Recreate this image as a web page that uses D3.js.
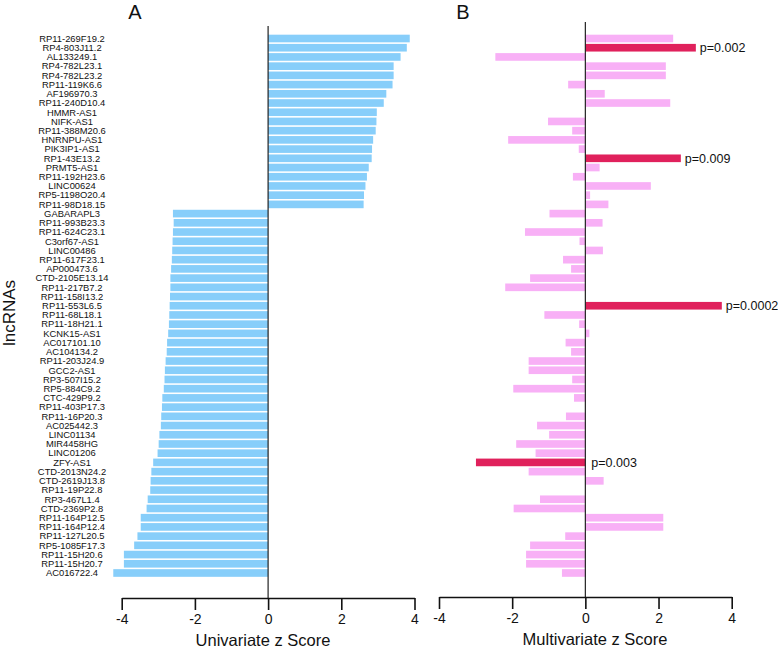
<!DOCTYPE html>
<html>
<head>
<meta charset="utf-8">
<script src="https://cdn.jsdelivr.net/npm/d3@7"></script>
<style>
  html, body { margin: 0; padding: 0; background: #fff; }
  svg { display: block; font-family: "Liberation Sans", Arial, sans-serif; }
</style>
</head>
<body>
<svg id="chart" width="778" height="650"></svg>
<script>
const lncRNAs = [
  "RP11-269F19.2","RP4-803J11.2","AL133249.1","RP4-782L23.1","RP4-782L23.2",
  "RP11-119K6.6","AF196970.3","RP11-240D10.4","HMMR-AS1","NIFK-AS1",
  "RP11-388M20.6","HNRNPU-AS1","PIK3IP1-AS1","RP1-43E13.2","PRMT5-AS1",
  "RP11-192H23.6","LINC00624","RP5-1198O20.4","RP11-98D18.15","GABARAPL3",
  "RP11-993B23.3","RP11-624C23.1","C3orf67-AS1","LINC00486","RP11-617F23.1",
  "AP000473.6","CTD-2105E13.14","RP11-217B7.2","RP11-158I13.2","RP11-553L6.5",
  "RP11-68L18.1","RP11-18H21.1","KCNK15-AS1","AC017101.10","AC104134.2",
  "RP11-203J24.9","GCC2-AS1","RP3-507I15.2","RP5-884C9.2","CTC-429P9.2",
  "RP11-403P17.3","RP11-16P20.3","AC025442.3","LINC01134","MIR4458HG",
  "LINC01206","ZFY-AS1","CTD-2013N24.2","CTD-2619J13.8","RP11-19P22.8",
  "RP3-467L1.4","CTD-2369P2.8","RP11-164P12.5","RP11-164P12.4","RP11-127L20.5",
  "RP5-1085F17.3","RP11-15H20.6","RP11-15H20.7","AC016722.4"
];

const univariateZ = [
  3.87, 3.79, 3.62, 3.43, 3.43, 3.40, 3.23, 3.16, 2.97, 2.96,
  2.94, 2.87, 2.84, 2.83, 2.75, 2.70, 2.66, 2.62, 2.61, -2.60,
  -2.58, -2.60, -2.61, -2.62, -2.63, -2.65, -2.67, -2.67, -2.68, -2.69,
  -2.70, -2.71, -2.73, -2.76, -2.77, -2.80, -2.82, -2.83, -2.85, -2.89,
  -2.90, -2.92, -2.93, -2.97, -2.99, -3.02, -3.14, -3.19, -3.21, -3.22,
  -3.29, -3.32, -3.48, -3.48, -3.57, -3.66, -3.94, -3.94, -4.23
];

const multivariateZ = [
  2.40, 3.02, -2.46, 2.20, 2.20, -0.47, 0.53, 2.32, 0.00, -1.02,
  -0.36, -2.11, -0.18, 2.61, 0.39, -0.34, 1.79, 0.13, 0.63, -0.98,
  0.47, -1.65, -0.16, 0.48, -0.61, -0.39, -1.51, -2.19, 0.00, 3.73,
  -1.12, -0.17, 0.11, -0.54, -0.39, -1.55, -1.55, -0.36, -1.97, -0.31,
  0.00, -0.53, -1.32, -0.99, -1.89, -1.36, -2.99, -1.55, 0.50, 0.00,
  -1.24, -1.96, 2.13, 2.13, -0.55, -1.51, -1.62, -1.62, -0.64
];

// significant multivariate results and their p-value labels
const significantNames = ["RP4-803J11.2", "RP1-43E13.2", "RP11-553L6.5", "ZFY-AS1"];
const significantP = ["p=0.002", "p=0.009", "p=0.0002", "p=0.003"];

const xTicks = [-4, -2, 0, 2, 4];
const panelTitles = ["A", "B"];
const axisTitles = ["Univariate z Score", "Multivariate z Score"];
const yTitle = "lncRNAs";

const svg = d3.select("#chart");

const y = d3.scaleBand()
  .domain(lncRNAs)
  .range([33.9, 577.6])
  .paddingInner(0.17)
  .paddingOuter(0.085);

const xA = d3.scaleLinear().domain([-4, 4]).range([121.7, 414.5]);
const xB = d3.scaleLinear().domain([-4, 4]).range([439, 731.7]);

const blue = "#87CEFA";
const pink = "#F8B0F6";
const crimson = "#E0215C";

// ---------- Row labels ----------
svg.append("g")
  .selectAll("text")
  .data(lncRNAs)
  .join("text")
  .attr("x", 72)
  .attr("y", d => y(d) + y.bandwidth() / 2)
  .attr("dy", "0.35em")
  .attr("text-anchor", "middle")
  .attr("font-size", 9.4)
  .attr("fill", "#111")
  .text(d => d);

// Y title
svg.append("text")
  .attr("transform", "translate(15,313) rotate(-90)")
  .attr("text-anchor", "middle")
  .attr("font-size", 17)
  .attr("fill", "#111")
  .text(yTitle);

// ---------- Panel A ----------
const gA = svg.append("g");
gA.selectAll("rect")
  .data(lncRNAs)
  .join("rect")
  .attr("x", (d, i) => Math.min(xA(0), xA(univariateZ[i])))
  .attr("y", d => y(d))
  .attr("width", (d, i) => Math.abs(xA(univariateZ[i]) - xA(0)))
  .attr("height", y.bandwidth())
  .attr("fill", blue);

gA.append("line")
  .attr("x1", xA(0)).attr("x2", xA(0))
  .attr("y1", 26).attr("y2", 598)
  .attr("stroke", "#222").attr("stroke-width", 1.2);

const axisA = svg.append("g")
  .attr("transform", "translate(0,598)")
  .call(d3.axisBottom(xA).tickValues(xTicks).tickSize(12).tickSizeOuter(0).tickPadding(4).tickFormat(d => String(d)));

// ---------- Panel B ----------
const gB = svg.append("g");
gB.selectAll("rect")
  .data(lncRNAs)
  .join("rect")
  .attr("x", (d, i) => Math.min(xB(0), xB(multivariateZ[i])))
  .attr("y", d => y(d))
  .attr("width", (d, i) => Math.abs(xB(multivariateZ[i]) - xB(0)))
  .attr("height", y.bandwidth())
  .attr("fill", d => significantNames.includes(d) ? crimson : pink);

gB.selectAll("text.p")
  .data(significantNames)
  .join("text")
  .attr("class", "p")
  .attr("x", d => {
    const v = multivariateZ[lncRNAs.indexOf(d)];
    return v >= 0 ? xB(v) + 4 : xB(0) + 6;
  })
  .attr("y", d => y(d) + y.bandwidth() / 2)
  .attr("dy", "0.36em")
  .attr("font-size", 12.5)
  .attr("fill", "#111")
  .text((d, i) => significantP[i]);

gB.append("line")
  .attr("x1", xB(0)).attr("x2", xB(0))
  .attr("y1", 22).attr("y2", 597)
  .attr("stroke", "#222").attr("stroke-width", 1.2);

const axisB = svg.append("g")
  .attr("transform", "translate(0,597)")
  .call(d3.axisBottom(xB).tickValues(xTicks).tickSize(12).tickSizeOuter(0).tickPadding(4).tickFormat(d => String(d)));

[axisA, axisB].forEach(ax => {
  ax.select(".domain").attr("stroke", "#111").attr("stroke-width", 1.6);
  ax.selectAll(".tick line").attr("stroke", "#111").attr("stroke-width", 1.6);
  ax.selectAll(".tick text")
    .attr("font-size", 14)
    .attr("fill", "#111")
    .attr("font-family", "Liberation Sans, Arial, sans-serif");
});

// Axis titles
svg.append("text")
  .attr("x", 263).attr("y", 646)
  .attr("text-anchor", "middle")
  .attr("font-size", 16.5)
  .attr("fill", "#111")
  .text(axisTitles[0]);

svg.append("text")
  .attr("x", 595).attr("y", 645)
  .attr("text-anchor", "middle")
  .attr("font-size", 16.5)
  .attr("fill", "#111")
  .text(axisTitles[1]);

// Panel titles
svg.append("text")
  .attr("x", 135).attr("y", 19)
  .attr("text-anchor", "middle")
  .attr("font-size", 20)
  .attr("fill", "#111")
  .text(panelTitles[0]);

svg.append("text")
  .attr("x", 463).attr("y", 19)
  .attr("text-anchor", "middle")
  .attr("font-size", 20)
  .attr("fill", "#111")
  .text(panelTitles[1]);
</script>
</body>
</html>
